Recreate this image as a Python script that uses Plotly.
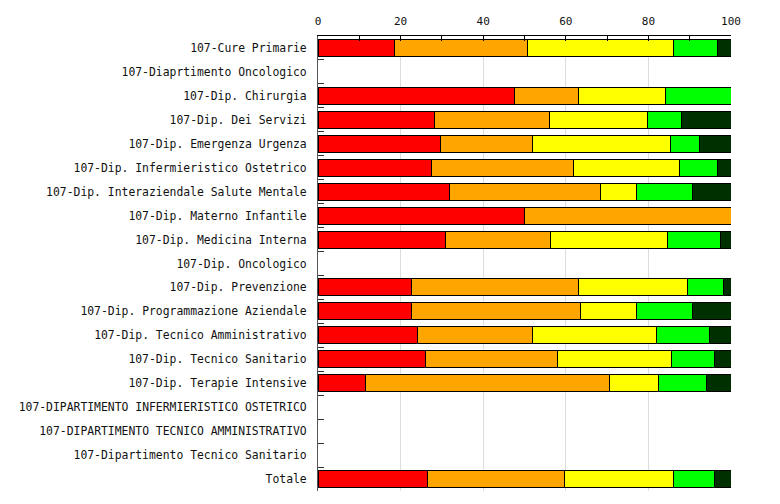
import plotly.graph_objects as go

categories = [
    "107-Cure Primarie",
    "107-Diaprtimento Oncologico",
    "107-Dip. Chirurgia",
    "107-Dip. Dei Servizi",
    "107-Dip. Emergenza Urgenza",
    "107-Dip. Infermieristico Ostetrico",
    "107-Dip. Interaziendale Salute Mentale",
    "107-Dip. Materno Infantile",
    "107-Dip. Medicina Interna",
    "107-Dip. Oncologico",
    "107-Dip. Prevenzione",
    "107-Dip. Programmazione Aziendale",
    "107-Dip. Tecnico Amministrativo",
    "107-Dip. Tecnico Sanitario",
    "107-Dip. Terapie Intensive",
    "107-DIPARTIMENTO INFERMIERISTICO OSTETRICO",
    "107-DIPARTIMENTO TECNICO AMMINISTRATIVO",
    "107-Dipartimento Tecnico Sanitario",
    "Totale",
]

red_vals =    [18.6, None, 47.5, 28.1, 29.7, 27.5, 31.9, 50.0, 30.9, None, 22.7, 22.7, 24.1, 26.1, 11.6, None, None, None, 26.5]
orange_vals = [32.2, None, 15.5, 27.9, 22.2, 34.4, 36.4, 50.0, 25.5, None, 40.3, 40.8, 27.8, 32.0, 59.0, None, None, None, 33.2]
yellow_vals = [35.3, None, 21.1, 23.9, 33.4, 25.6, 8.8, 0.0, 28.3, None, 26.4, 13.6, 30.1, 27.5, 11.8, None, None, None, 26.3]
green_vals =  [10.7, None, 15.9, 8.0, 7.0, 9.3, 13.6, 0.0, 12.7, None, 8.8, 13.6, 12.7, 10.4, 11.7, None, None, None, 10.0]
dkgreen_vals = [3.2, None, 0.0, 12.1, 7.7, 3.2, 9.3, 0.0, 2.6, None, 1.8, 9.3, 5.3, 4.0, 5.9, None, None, None, 4.0]

series = [
    ("1", red_vals, "#FF0000"),
    ("2", orange_vals, "#FFA500"),
    ("3", yellow_vals, "#FFFF00"),
    ("4", green_vals, "#00FF00"),
    ("5", dkgreen_vals, "#003000"),
]

font_family = "DejaVu Sans Mono"

fig = go.Figure()
for name, vals, color in series:
    fig.add_trace(go.Bar(
        y=categories, x=vals, name=name, orientation="h",
        marker=dict(color=color, line=dict(color="#000000", width=1)),
        width=0.71,
    ))

fig.update_layout(
    barmode="stack",
    width=780, height=504,
    margin=dict(l=310, r=57, t=28, b=21),
    paper_bgcolor="white", plot_bgcolor="white",
    showlegend=False,
    font=dict(family=font_family, size=11, color="#111111"),
    xaxis=dict(
        side="top", range=[0, 100], dtick=20, tick0=0,
        showgrid=True, gridcolor="#DDDDDD", gridwidth=1,
        ticks="inside", ticklen=5, tickcolor="#000000",
        showline=True, linecolor="#000000", linewidth=1,
        minor=dict(dtick=10, ticks="inside", ticklen=5, tickcolor="#000000", showgrid=False),
        zeroline=False, fixedrange=True, automargin=False,
        ticklabelstandoff=6,
        tickfont=dict(family=font_family, size=11, color="#111111"),
    ),
    yaxis=dict(
        categoryorder="array", categoryarray=categories,
        autorange="reversed",
        showline=True, linecolor="#555555", linewidth=1,
        ticks="inside", ticklen=6, tickcolor="#333333",
        tickson="boundaries",
        showgrid=False, zeroline=False, automargin=False,
        ticklabelstandoff=8,
        tickfont=dict(family=font_family, size=11.4, color="#111111"),
    ),
)

fig.write_html("out.html")
